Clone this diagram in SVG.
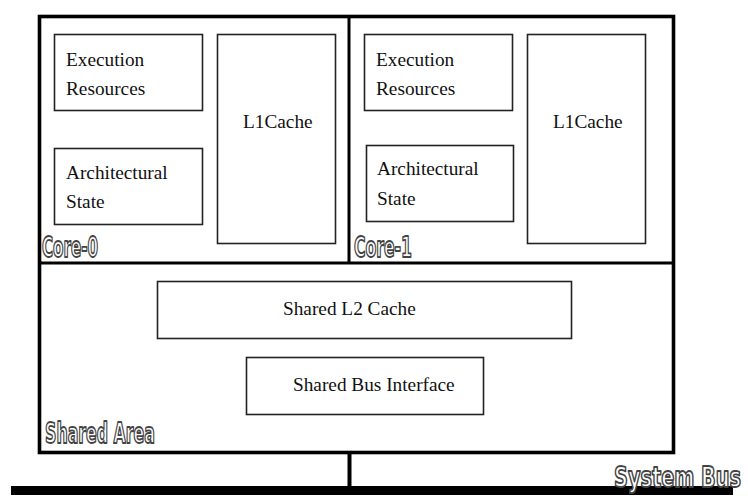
<svg xmlns="http://www.w3.org/2000/svg" width="748" height="502" viewBox="0 0 748 502">
<style>
.box{fill:#fff;stroke:#222;stroke-width:1.6}
.t{font-family:"Liberation Serif","Times New Roman",serif;font-size:19.3px;fill:#111}
.lbl{font-family:"DejaVu Sans Condensed","DejaVu Sans",sans-serif;font-weight:bold;font-size:29px;fill:#fff;stroke:#444;stroke-width:1.8;stroke-linejoin:round}
.frame{fill:none;stroke:#000}
</style>
<rect width="748" height="502" fill="#fff"/>
<g id="processor">
<rect class="frame" x="39.5" y="16.5" width="634" height="436" stroke-width="3.6"/>
<line class="frame" x1="349" y1="16" x2="349" y2="263" stroke-width="3"/>
<line class="frame" x1="39" y1="263" x2="673" y2="263" stroke-width="3"/>
</g>
<g id="core0">
<text class="lbl" x="42" y="257" textLength="56" lengthAdjust="spacingAndGlyphs">Core-0</text>
</g>
<g id="core0-exec">
<rect class="box" x="54.5" y="34.5" width="148" height="76"/>
<text class="t" x="66" y="66">Execution</text>
<text class="t" x="66" y="95">Resources</text>
</g>
<g id="core0-arch">
<rect class="box" x="54.5" y="148.5" width="148" height="76"/>
<text class="t" x="66" y="179">Architectural</text>
<text class="t" x="66" y="208">State</text>
</g>
<g id="core0-l1">
<rect class="box" x="217.5" y="34.5" width="118" height="209"/>
<text class="t" x="243" y="128">L1Cache</text>
</g>
<g id="core1">
<text class="lbl" x="354" y="257" textLength="58" lengthAdjust="spacingAndGlyphs">Core-1</text>
</g>
<g id="core1-exec">
<rect class="box" x="364.5" y="34.5" width="148" height="76"/>
<text class="t" x="376" y="66">Execution</text>
<text class="t" x="376" y="95">Resources</text>
</g>
<g id="core1-arch">
<rect class="box" x="366.5" y="145.5" width="147" height="76"/>
<text class="t" x="377" y="175">Architectural</text>
<text class="t" x="377" y="205">State</text>
</g>
<g id="core1-l1">
<rect class="box" x="527.5" y="34.5" width="118" height="209"/>
<text class="t" x="553" y="128">L1Cache</text>
</g>
<g id="shared-area">
<text class="lbl" x="45" y="443" textLength="110" lengthAdjust="spacingAndGlyphs">Shared Area</text>
</g>
<g id="shared-l2">
<rect class="box" x="157.5" y="281.5" width="414" height="57"/>
<text class="t" x="283" y="315">Shared L2 Cache</text>
</g>
<g id="shared-bus-if">
<rect class="box" x="246.5" y="357.5" width="237" height="57"/>
<text class="t" x="293" y="391">Shared Bus Interface</text>
</g>
<g id="system-bus">
<rect x="11" y="486" width="722" height="9" fill="#000"/>
<text class="lbl" transform="translate(614,487) scale(0.74,1)" x="0" y="0">System Bus</text>
</g>
<g id="connectors">
<line x1="349.5" y1="452" x2="349.5" y2="487" stroke="#000" stroke-width="4"/>
</g>
</svg>
